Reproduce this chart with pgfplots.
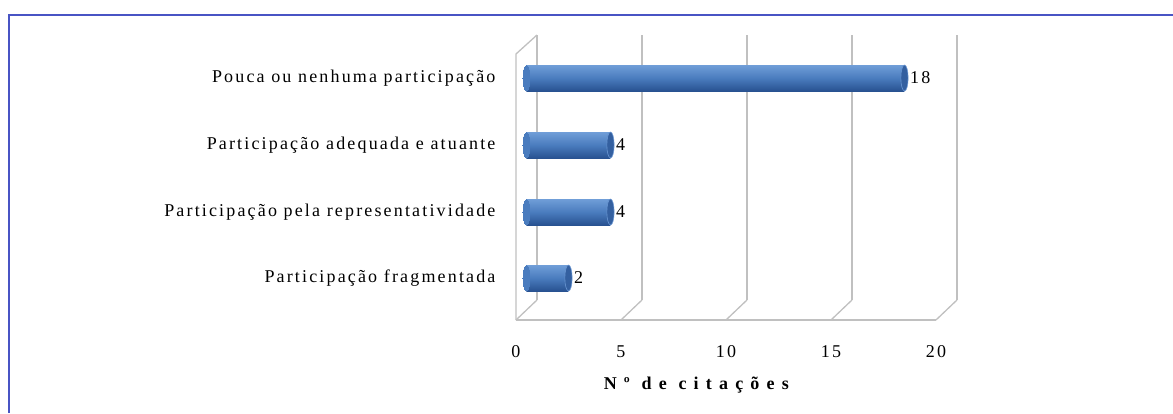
\documentclass[border=0pt]{standalone}
\usepackage{fontspec}
\setmainfont{Liberation Serif}[LetterSpace=12]
\usepackage{pgfplots}
\pgfplotsset{compat=1.18}
\definecolor{barlight}{RGB}{112,158,216}
\definecolor{barmid}{RGB}{74,124,190}
\definecolor{bardark}{RGB}{40,82,145}
\definecolor{capc}{RGB}{52,96,160}
\definecolor{caprim}{RGB}{105,150,210}
\definecolor{gridc}{RGB}{192,192,192}
\definecolor{framec}{RGB}{72,84,196}
\pgfplotsset{
  cyl/.style={xbar, bar width=26pt, bar shift=0pt, draw=none,
    top color=barlight, bottom color=bardark, middle color=barmid},
  lcap/.style={only marks, color=barmid, mark=*, mark size=12.5pt,
    mark options={xscale=0.28, draw=barmid, fill=barmid, line width=0pt}},
  rcap/.style={only marks, color=capc, mark=*, mark size=13pt,
    mark options={xscale=0.28, draw=caprim, line width=0.6pt, fill=capc},
    point meta=x, nodes near coords,
    nodes near coords style={anchor=west, xshift=2pt, font=\fontsize{18}{20}\selectfont, text=black}},
  gl/.style={gridc, line width=1.3pt},
}
\begin{document}
\begin{tikzpicture}
\begin{axis}[
  scale only axis, width=441pt, height=285pt,
  xmin=-0.5, xmax=20.5, ymin=-10, ymax=275,
  axis line style={draw=none}, major tick length=0pt,
  xtick={-0.5,4.5,9.5,14.5,19.5}, xticklabels={0,5,10,15,20},
  ytick={32,98,165,232},
  yticklabels={Participação fragmentada, Participação pela representatividade, Participação adequada e atuante, Pouca ou nenhuma participação},
  tick label style={font=\fontsize{18}{20}\selectfont},
  xticklabel style={yshift=-22pt},
  yticklabel style={xshift=-17pt},
  /pgf/number format/assume math mode=true,
  clip=false,
  xlabel={\addfontfeature{LetterSpace=40}\textbf{Nº de citações}},
  xlabel style={at={(axis cs:8.26,-10)}, anchor=north, yshift=-53pt, font=\fontsize{18}{20}\selectfont},
]
% back wall verticals
\addplot[gl] coordinates {(0.5,10) (0.5,275)};
\addplot[gl] coordinates {(5.5,10) (5.5,275)};
\addplot[gl] coordinates {(10.5,10) (10.5,275)};
\addplot[gl] coordinates {(15.5,10) (15.5,275)};
\addplot[gl] coordinates {(20.5,10) (20.5,275)};
% floor diagonals
\addplot[gl] coordinates {(-0.5,-10) (0.5,10)};
\addplot[gl] coordinates {(4.5,-10) (5.5,10)};
\addplot[gl] coordinates {(9.5,-10) (10.5,10)};
\addplot[gl] coordinates {(14.5,-10) (15.5,10)};
\addplot[gl] coordinates {(19.5,-10) (20.5,10)};
% front baseline and left wall
\addplot[gl] coordinates {(-0.5,-10) (19.5,-10)};
\addplot[gl] coordinates {(-0.5,-10) (-0.5,256) (0.5,275)};
% left caps
\addplot[lcap] coordinates {(0,232) (0,165) (0,98) (0,32)};
% bars
\addplot[cyl] coordinates {(18,232)};
\addplot[cyl] coordinates {(4,165)};
\addplot[cyl] coordinates {(4,98)};
\addplot[cyl] coordinates {(2,32)};
% right caps + values
\addplot[rcap] coordinates {(18,232) (4,165) (4,98) (2,32)};
\coordinate (tl) at (axis cs:-25.071,310);
\coordinate (br) at (axis cs:30.786,-103);
\draw[framec, line width=2.5pt] (axis cs:-24.643,-103) -- (axis cs:-24.643,295) -- (axis cs:30.786,295);
\end{axis}
\pgfresetboundingbox
\path[use as bounding box] (tl) rectangle (br);
\end{tikzpicture}
\end{document}
